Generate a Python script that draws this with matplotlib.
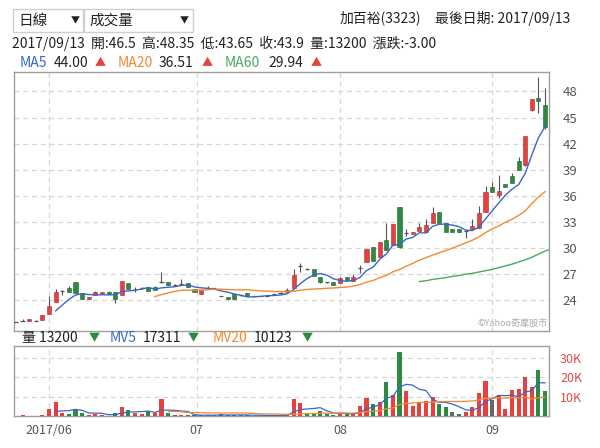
import matplotlib
matplotlib.use('Agg')
import matplotlib.pyplot as plt
from matplotlib.patches import Rectangle
import numpy as np
import pandas as pd

plt.rcParams['font.family'] = ['Noto Sans CJK TC', 'DejaVu Sans']

# daily prices, 2017/05 .. 2017/09/13 (81 trading days)
opens = [21.5, 21.6, 21.6, 21.65, 21.7, 22.4, 23.8, 25.1, 25.4, 26.1,
         24.8, 24.2, 24.6, 24.7, 25.0, 24.9, 24.6, 26.0, 25.3, 25.4,
         25.5, 25.5, 26.1, 26.1, 25.7, 25.85, 26.0, 25.3, 24.7, 25.4,
         25.4, 24.5, 24.4, 24.7, 24.6, 24.85, 24.5, 24.5, 24.55, 24.7,
         24.8, 24.9, 25.45, 27.95, 27.55, 27.65, 26.7, 26.05, 26.15, 25.95,
         26.65, 26.25, 27.7, 28.45, 30.15, 29.0, 30.9, 30.35, 34.75, 31.7,
         31.6, 32.0, 31.8, 32.85, 34.2, 32.9, 32.15, 32.25, 32.0, 32.15,
         32.3, 34.1, 37.0, 36.1, 37.35, 38.3, 40.05, 39.55, 45.9, 47.3,
         46.5]
highs = [21.55, 21.9, 21.85, 21.7, 22.35, 24.5, 25.3, 25.15, 25.65, 26.1,
         24.8, 24.4, 25.1, 25.0, 25.05, 24.9, 26.25, 26.0, 25.5, 25.5,
         25.55, 25.6, 27.2, 26.1, 25.9, 26.5, 26.0, 25.3, 25.2, 25.65,
         25.45, 24.55, 24.4, 24.7, 24.65, 24.85, 24.55, 24.55, 24.6, 24.75,
         24.95, 25.45, 27.55, 28.3, 27.75, 27.65, 26.7, 26.1, 26.15, 26.65,
         26.65, 27.0, 28.05, 29.9, 30.15, 30.75, 32.9, 32.75, 34.75, 32.2,
         31.85, 32.9, 33.4, 34.75, 34.2, 32.9, 32.15, 32.25, 32.1, 33.3,
         34.85, 37.15, 37.6, 38.4, 37.4, 38.6, 40.45, 42.9, 47.15, 49.7,
         48.35]
lows = [21.45, 21.6, 21.6, 21.65, 21.7, 22.4, 23.8, 24.6, 24.9, 24.8,
        24.1, 24.2, 24.6, 24.7, 24.7, 23.65, 24.6, 25.3, 24.95, 25.3,
        25.1, 25.2, 26.0, 25.7, 25.65, 25.85, 25.5, 24.9, 24.7, 25.4,
        25.35, 24.5, 24.2, 24.15, 24.55, 24.5, 24.45, 24.45, 24.5, 24.65,
        24.75, 24.9, 25.45, 27.3, 27.5, 26.8, 25.95, 26.0, 25.8, 25.95,
        26.3, 26.25, 27.1, 28.4, 28.55, 29.0, 29.8, 30.35, 30.0, 31.4,
        31.6, 32.0, 31.8, 32.85, 32.85, 31.85, 31.85, 31.8, 31.15, 32.15,
        32.3, 34.1, 36.4, 35.75, 37.0, 37.45, 39.0, 39.4, 45.8, 45.5,
        43.65]
closes = [21.5, 21.6, 21.8, 21.65, 22.3, 23.3, 24.9, 25.1, 24.9, 24.8,
          24.1, 24.4, 24.9, 25.0, 24.7, 24.2, 26.2, 25.3, 25.35, 25.4,
          25.1, 25.2, 26.1, 25.7, 25.7, 25.85, 25.5, 24.9, 25.2, 25.4,
          25.4, 24.5, 24.2, 24.15, 24.6, 24.5, 24.5, 24.5, 24.55, 24.7,
          24.8, 25.2, 26.95, 27.95, 27.55, 26.8, 26.15, 26.05, 25.8, 26.6,
          26.3, 26.65, 27.7, 29.85, 28.55, 30.75, 29.8, 32.75, 30.15, 31.7,
          31.8, 32.4, 32.65, 34.0, 32.85, 31.85, 31.85, 31.8, 32.0, 32.55,
          34.0, 36.4, 36.4, 36.6, 37.0, 37.45, 39.0, 42.9, 47.15, 46.9,
          43.9]
# volume in thousands of shares
volumes = [0.1, 0.4, 0.1, 0.1, 0.5, 3.8, 7.3, 1.4, 0.9, 3.8,
           1.4, 0.5, 0.8, 0.5, 0.2, 1.4, 4.7, 3.1, 1.4, 0.9,
           2.6, 1.4, 9.0, 1.4, 0.4, 0.7, 0.3, 0.4, 0.4, 0.4,
           0.6, 0.8, 0.3, 0.5, 0.7, 0.3, 0.2, 0.2, 0.3, 0.4,
           0.3, 0.6, 9.0, 6.6, 1.7, 1.7, 2.6, 1.0, 0.5, 1.5,
           1.0, 1.2, 5.2, 9.5, 6.2, 7.4, 17.4, 10.9, 33.3, 13.1,
           5.2, 6.6, 7.8, 10.0, 6.2, 4.8, 2.0, 1.0, 2.0, 4.7,
           12.0, 18.0, 8.1, 10.7, 3.8, 13.5, 13.8, 20.0, 15.0, 24.0,
           13.2]
# 60-day average, only the tail is on screen (from day 61)
ma60 = [26.15, 26.25, 26.4, 26.5, 26.6, 26.75, 26.85, 27.0, 27.1, 27.25,
        27.4, 27.55, 27.75, 27.95, 28.15, 28.4, 28.65, 28.95, 29.3, 29.65,
        29.94]
ma60_start = 61

month_pos = [5, 27.3, 49, 72]
month_labels = ['2017/06', '07', '08', '09']
price_ticks = [24, 27, 30, 33, 36, 39, 42, 45, 48]
vol_ticks = [10, 20, 30]
vol_tick_labels = ['10K', '20K', '30K']

RED = '#e8403f'
GREEN = '#2d8a43'
GRAY = '#666666'
BLUE = '#3b66c9'
ORANGE = '#f28a30'
MA60C = '#4aa862'
GRID = '#d6d6d6'

x = np.arange(len(closes))
o = np.array(opens); h = np.array(highs); l = np.array(lows); c = np.array(closes)
s = pd.Series(closes)
ma5 = s.rolling(5).mean()
ma20 = s.rolling(20).mean()
ma5[:6] = np.nan
ma20[:21] = np.nan
v = pd.Series(volumes)
mv5 = v.rolling(5).mean()
mv20 = v.rolling(20).mean()
mv5[:6] = np.nan
mv20[:23] = np.nan

fig = plt.figure(figsize=(6, 4.48), dpi=100)
W, H = 600.0, 448.0
ax = fig.add_axes([14 / W, 1 - 331 / H, 535 / W, 259 / H])
axv = fig.add_axes([14 / W, 1 - 416 / H, 535 / W, 70 / H])

for a in (ax, axv):
    for sp in a.spines.values():
        sp.set_color('#a0a0a0')
        sp.set_linewidth(1)
    a.set_xlim(-0.3, 80.6)
    for m in month_pos:
        a.axvline(m, color=GRID, lw=0.9, ls=(0, (4, 3)), zorder=0)

# candles
ax.vlines(x, l, h, color='#555555', lw=0.8, zorder=2)
up = c > o
dn = c < o
flat = c == o
ax.bar(x[up], (c - o)[up], bottom=o[up], width=0.62, color=RED,
       edgecolor='#9a3030', linewidth=0.4, zorder=3)
ax.bar(x[dn], (o - c)[dn], bottom=c[dn], width=0.62, color=GREEN,
       edgecolor='#245e30', linewidth=0.4, zorder=3)
ax.hlines(c[flat], x[flat] - 0.32, x[flat] + 0.32, color='#555555', lw=0.9, zorder=3)

ax.plot(x, ma5, color=BLUE, lw=1.0, zorder=4)
ax.plot(x, ma20, color=ORANGE, lw=1.0, zorder=4)
ax.plot(np.arange(ma60_start, ma60_start + len(ma60)), ma60, color=MA60C, lw=1.0, zorder=4)

ax.set_ylim(20.47, 50.24)
ax.set_yticks(price_ticks)
ax.yaxis.tick_right()
ax.tick_params(axis='y', length=0, pad=10, labelsize=9.5, labelcolor='#555555')
ax.set_xticks([])
for t in price_ticks:
    ax.axhline(t, color=GRID, lw=0.9, ls=(0, (4, 3)), zorder=0)
ax.text(0.998, 0.012, '©Yahoo奇摩股市', transform=ax.transAxes, ha='right', va='bottom',
        fontsize=6.5, color='#aaaaaa')

# volume
diff = np.sign(np.diff(c, prepend=c[0]))
vcol = [RED if d > 0 else GREEN if d < 0 else GRAY for d in diff]
axv.bar(x, volumes, width=0.62, color=vcol, zorder=3)
axv.plot(x, mv5, color=BLUE, lw=0.9, zorder=4)
axv.plot(x, mv20, color=ORANGE, lw=0.9, zorder=4)
axv.set_ylim(0, 36.3)
axv.set_yticks(vol_ticks)
axv.set_yticklabels(vol_tick_labels)
axv.yaxis.tick_right()
axv.tick_params(axis='y', length=0, pad=8, labelsize=9, labelcolor='#e04848')
for t in vol_ticks:
    axv.axhline(t, color=GRID, lw=0.9, ls=(0, (4, 3)), zorder=0)
axv.set_xticks(month_pos)
axv.set_xticklabels(month_labels)
axv.tick_params(axis='x', length=0, pad=6, labelsize=9, labelcolor='#555555')


def ftext(px, py, s, **kw):
    kw.setdefault('fontsize', 10)
    kw.setdefault('va', 'center')
    kw.setdefault('color', '#222222')
    fig.text(px / W, 1 - py / H, s, **kw)


# dropdown boxes
for bx0, bx1 in [(12.5, 82.5), (83.5, 193)]:
    fig.patches.append(Rectangle((bx0 / W, 1 - 32 / H), (bx1 - bx0) / W, 23 / H,
                                 transform=fig.transFigure, fill=False,
                                 edgecolor='#cfcfcf', lw=1))
ftext(18, 21, '日線', fontsize=10.5)
ftext(75, 21, '▼', fontsize=6.5, ha='center')
ftext(89, 21, '成交量', fontsize=10.5)
ftext(184, 21, '▼', fontsize=6.5, ha='center')

ftext(340, 18, '加百裕(3323)', fontsize=10)
ftext(435, 18, '最後日期: 2017/09/13', fontsize=10)
ftext(12, 43, '2017/09/13  開:46.5  高:48.35  低:43.65  收:43.9  量:13200  漲跌:-3.00', fontsize=10)

# MA legend row
ftext(20, 63, 'MA5', color=BLUE)
ftext(54, 63, '44.00', color='#222222')
ftext(95, 63, '▲', color=RED, fontsize=8)
ftext(118, 63, 'MA20', color=ORANGE)
ftext(159, 63, '36.51')
ftext(202, 63, '▲', color=RED, fontsize=8)
ftext(225, 63, 'MA60', color=MA60C)
ftext(268, 63, '29.94')
ftext(311, 63, '▲', color=RED, fontsize=8)

# volume legend row
ftext(22, 338, '量 13200')
ftext(89, 338, '▼', color=GREEN, fontsize=8)
ftext(110, 338, 'MV5', color=BLUE)
ftext(143, 338, '17311')
ftext(188, 338, '▼', color=GREEN, fontsize=8)
ftext(213, 338, 'MV20', color=ORANGE)
ftext(254, 338, '10123')
ftext(302, 338, '▼', color=GREEN, fontsize=8)

fig.savefig('out.png', dpi=100)
